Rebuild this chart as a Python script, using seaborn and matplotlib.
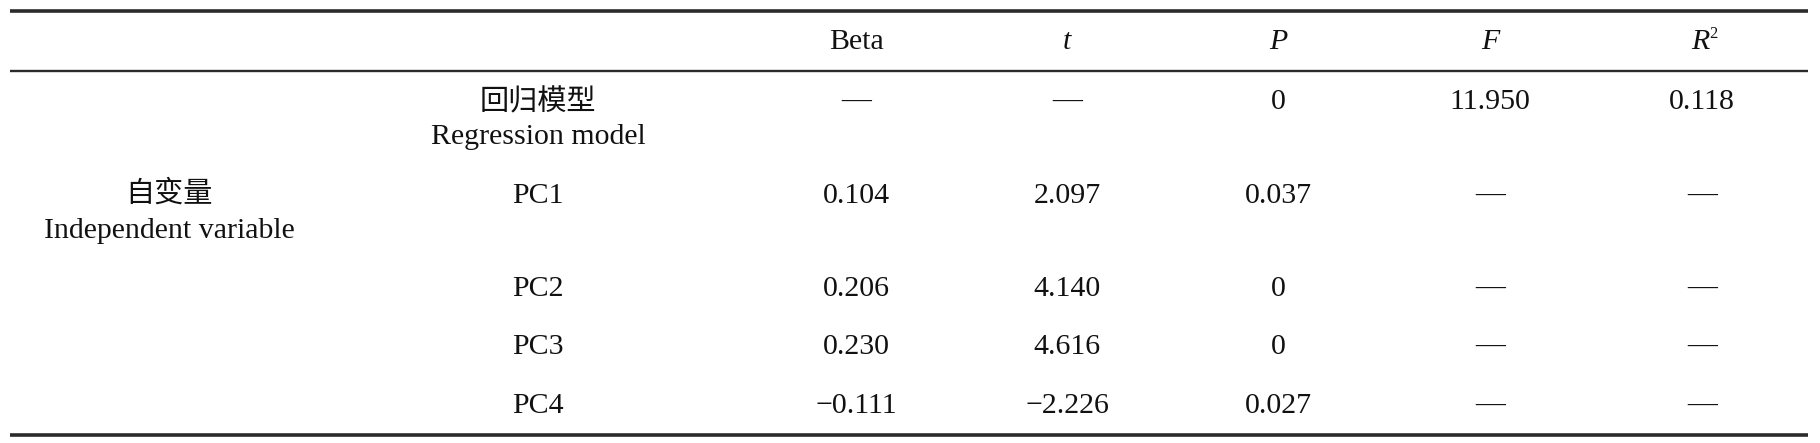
import matplotlib
matplotlib.use("Agg")
import matplotlib.pyplot as plt
import seaborn as sns

# ---- data ----
columns = ["Beta", "t", "P", "F", "R2"]
group_cn = "自变量"
group_en = "Independent variable"
model_cn = "回归模型"
model_en = "Regression model"
row_labels = ["PC1", "PC2", "PC3", "PC4"]
model_values = ["—", "—", "0", "11.950", "0.118"]
beta_values = ["0.104", "0.206", "0.230", "−0.111"]
t_values = ["2.097", "4.140", "4.616", "−2.226"]
p_values = ["0.037", "0", "0", "0.027"]
f_values = ["—", "—", "—", "—"]
r2_values = ["—", "—", "—", "—"]

# ---- style ----
sns.set_theme(style="white")
plt.rcParams["font.family"] = ["Liberation Serif", "Noto Sans CJK SC", "DejaVu Sans"]

W, H = 1820, 443
fig = plt.figure(figsize=(W / 100, H / 100), dpi=100)
ax = fig.add_axes([0, 0, 1, 1])
ax.set_xlim(0, W)
ax.set_ylim(H, 0)
ax.axis("off")

fs = 21.5
col_x = [856, 1067, 1278, 1490, 1702]
label_x = 538
group_x = 169
header_y = 42
model_y = 102
model_en_y = 137
row_y = [196, 289, 347, 406]

line_col = "#2b2b2b"
ax.hlines(11, 10, 1808, color=line_col, lw=2.6)
ax.hlines(71, 10, 1808, color=line_col, lw=1.7)
ax.hlines(435, 10, 1808, color=line_col, lw=2.6)

def put(x, y, s, size=fs, ha="center", **kw):
    ax.text(x, y, s, ha=ha, va="center", fontsize=size, color="#111111", **kw)

# header
put(col_x[0], header_y, columns[0])
put(col_x[1], header_y, columns[1], style="italic")
put(col_x[2], header_y, columns[2], style="italic")
put(col_x[3], header_y, columns[3], style="italic")
put(col_x[4] - 2, header_y, columns[4][0], style="italic")
put(col_x[4] + 7, header_y - 8, columns[4][1], size=fs * 0.55, ha="left")

# model row
cjk = ["Noto Sans CJK SC"]
put(label_x, model_y, model_cn, size=fs - 0.5, family=cjk, weight="light")
put(label_x, model_en_y, model_en)
for x, s in zip(col_x, model_values):
    put(x, model_y, s)

# group label
put(group_x, 194, group_cn, size=fs - 0.5, family=cjk, weight="light")
put(group_x, 231, group_en)

# PC rows
for i, lab in enumerate(row_labels):
    y = row_y[i]
    put(label_x, y, lab)
    for x, s in zip(col_x, [beta_values[i], t_values[i], p_values[i], f_values[i], r2_values[i]]):
        put(x, y, s)

fig.savefig("out.png", dpi=100, facecolor="white")
